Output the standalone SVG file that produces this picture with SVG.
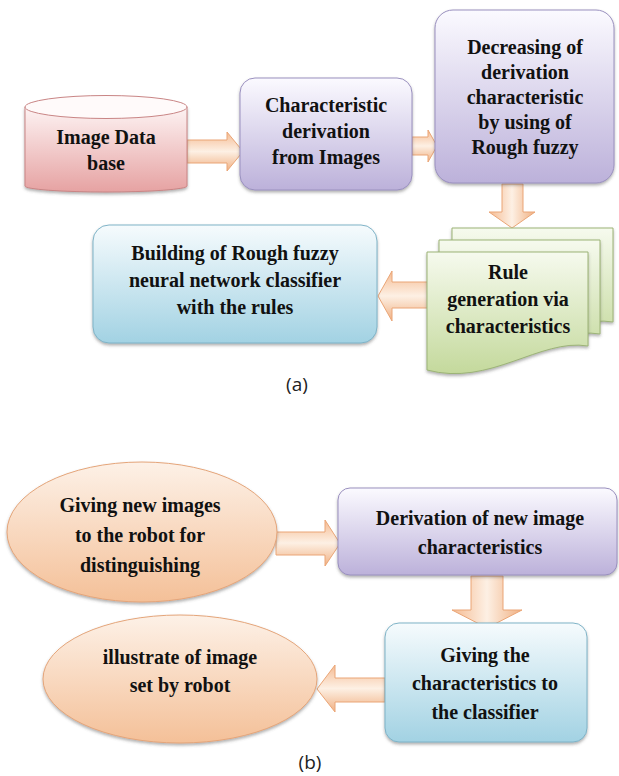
<svg xmlns="http://www.w3.org/2000/svg" width="619" height="776" viewBox="0 0 619 776">
<defs>
<linearGradient id="gPink" x1="0" y1="0" x2="0" y2="1"><stop offset="0" stop-color="#fdf3f3"/><stop offset="1" stop-color="#e6a2a2"/></linearGradient>
<linearGradient id="gPurple" x1="0" y1="0" x2="0" y2="1"><stop offset="0" stop-color="#fbfaff"/><stop offset="1" stop-color="#bcb1da"/></linearGradient>
<linearGradient id="gBlue" x1="0" y1="0" x2="0" y2="1"><stop offset="0" stop-color="#f6fbfd"/><stop offset="1" stop-color="#a2d2e3"/></linearGradient>
<linearGradient id="gGreen" x1="0" y1="0" x2="0" y2="1"><stop offset="0" stop-color="#f6faee"/><stop offset="1" stop-color="#c4d99c"/></linearGradient>
<linearGradient id="gOrange" x1="0" y1="0" x2="0" y2="1"><stop offset="0" stop-color="#fdf1e7"/><stop offset="1" stop-color="#f4c098"/></linearGradient>
<linearGradient id="gArrH" x1="0" y1="0" x2="0" y2="1"><stop offset="0" stop-color="#f5bb92"/><stop offset="0.5" stop-color="#fdf0e4"/><stop offset="1" stop-color="#f0b082"/></linearGradient>
<linearGradient id="gArrV" x1="0" y1="0" x2="1" y2="0"><stop offset="0" stop-color="#f5bb92"/><stop offset="0.5" stop-color="#fdf0e4"/><stop offset="1" stop-color="#f0b082"/></linearGradient>
<filter id="sh" x="-10%" y="-10%" width="120%" height="130%"><feDropShadow dx="0" dy="2" stdDeviation="1.5" flood-color="#555" flood-opacity="0.45"/></filter>
<style>
.t{font-family:"Liberation Serif","DejaVu Serif",serif;font-weight:bold;font-size:20px;fill:#111;text-anchor:middle}
.cap{font-family:"Open Sans","Liberation Sans",sans-serif;font-size:19px;fill:#222;text-anchor:middle}
.pink{fill:url(#gPink);stroke:#c98585;stroke-width:1;filter:url(#sh)}
.purple{fill:url(#gPurple);stroke:#9a90bf;stroke-width:1;filter:url(#sh)}
.blue{fill:url(#gBlue);stroke:#7fb3c7;stroke-width:1;filter:url(#sh)}
.green{fill:url(#gGreen);stroke:#9cb377;stroke-width:1;filter:url(#sh)}
.orange{fill:url(#gOrange);stroke:#e4a57a;stroke-width:1;filter:url(#sh)}
.ah{fill:url(#gArrH);stroke:#eaa576;stroke-width:1}
.av{fill:url(#gArrV);stroke:#eaa576;stroke-width:1}
</style>
</defs>
<rect width="619" height="776" fill="#ffffff"/>

<g id="connectors">
<polygon class="ah" points="187,140 227,140 227,132 243,151.5 227,171 227,163 187,163"/>
<polygon class="ah" points="412,137 428,137 428,130 437,146 428,162 428,155 412,155"/>
<polygon class="av" points="502,184 523,184 523,212 535,212 512,228 489,212 502,212"/>
<polygon class="ah" points="428,282 392,282 392,271 378,296 392,321 392,308 428,308"/>
<polygon class="ah" points="276,532 325,532 325,520 340,543.5 325,566 325,555 276,555"/>
<polygon class="av" points="471,576 503,576 503,610 522,610 487,628 452,610 471,610"/>
<polygon class="ah" points="385,678 335,678 335,665 317,689 335,712 335,702 385,702"/>
</g>

<g font-family="Liberation Serif, DejaVu Serif, serif" font-weight="bold">
<g id="node-image-database">
<path class="pink" d="M25,107 V186 A81,6 0 0 0 187,186 V107 Z"/>
<ellipse cx="106" cy="107" rx="81" ry="11.5" fill="#fffafa" stroke="#c98585" stroke-width="1"/>
<text class="t" x="106" y="144">Image Data</text>
<text class="t" x="106" y="170">base</text>
</g>

<g id="node-characteristic-derivation">
<rect class="purple" x="240" y="78" width="172" height="112" rx="15"/>
<text class="t" x="326" y="112">Characteristic</text>
<text class="t" x="326" y="138">derivation</text>
<text class="t" x="326" y="164">from  Images</text>
</g>

<g id="node-decreasing">
<rect class="purple" x="435" y="10" width="179" height="173" rx="18"/>
<text class="t" x="525" y="54">Decreasing of</text>
<text class="t" x="525" y="79">derivation</text>
<text class="t" x="525" y="104">characteristic</text>
<text class="t" x="525" y="129">by using of</text>
<text class="t" x="525" y="154">Rough fuzzy</text>
</g>

<g id="node-rule-generation">
<path class="green" d="M452,228 H613 V322 C565,314 515,361 452,346 Z"/>
<path class="green" d="M439,240 H600 V334 C552,326 502,373 439,358 Z"/>
<path class="green" d="M427,252 H588 V346 C540,338 490,387 427,370 Z"/>
<text class="t" x="508" y="279">Rule</text>
<text class="t" x="508" y="306">generation via</text>
<text class="t" x="508" y="333">characteristics</text>
</g>

<g id="node-building-classifier">
<rect class="blue" x="93" y="225" width="284" height="118" rx="16"/>
<text class="t" x="235" y="260">Building of Rough fuzzy</text>
<text class="t" x="235" y="287">neural network classifier</text>
<text class="t" x="235" y="314">with the rules</text>
</g>

<g id="node-giving-new-images">
<ellipse class="orange" cx="142" cy="532" rx="135" ry="70"/>
<text class="t" x="140" y="512">Giving new images</text>
<text class="t" x="140" y="542">to the robot for</text>
<text class="t" x="140" y="572">distinguishing</text>
</g>

<g id="node-derivation-new">
<rect class="purple" x="338" y="488" width="279" height="87" rx="12"/>
<text class="t" x="480" y="525">Derivation of new image</text>
<text class="t" x="480" y="554">characteristics</text>
</g>

<g id="node-giving-classifier">
<rect class="blue" x="385" y="623" width="202" height="119" rx="14"/>
<text class="t" x="485" y="662">Giving the</text>
<text class="t" x="485" y="690">characteristics to</text>
<text class="t" x="485" y="719">the classifier</text>
</g>

<g id="node-illustrate">
<ellipse class="orange" cx="180" cy="679" rx="137" ry="64"/>
<text class="t" x="180" y="664">illustrate of image</text>
<text class="t" x="180" y="692">set by robot</text>
</g>
</g>

<text class="cap" x="297" y="391">(a)</text>
<text class="cap" x="310" y="769">(b)</text>
</svg>
